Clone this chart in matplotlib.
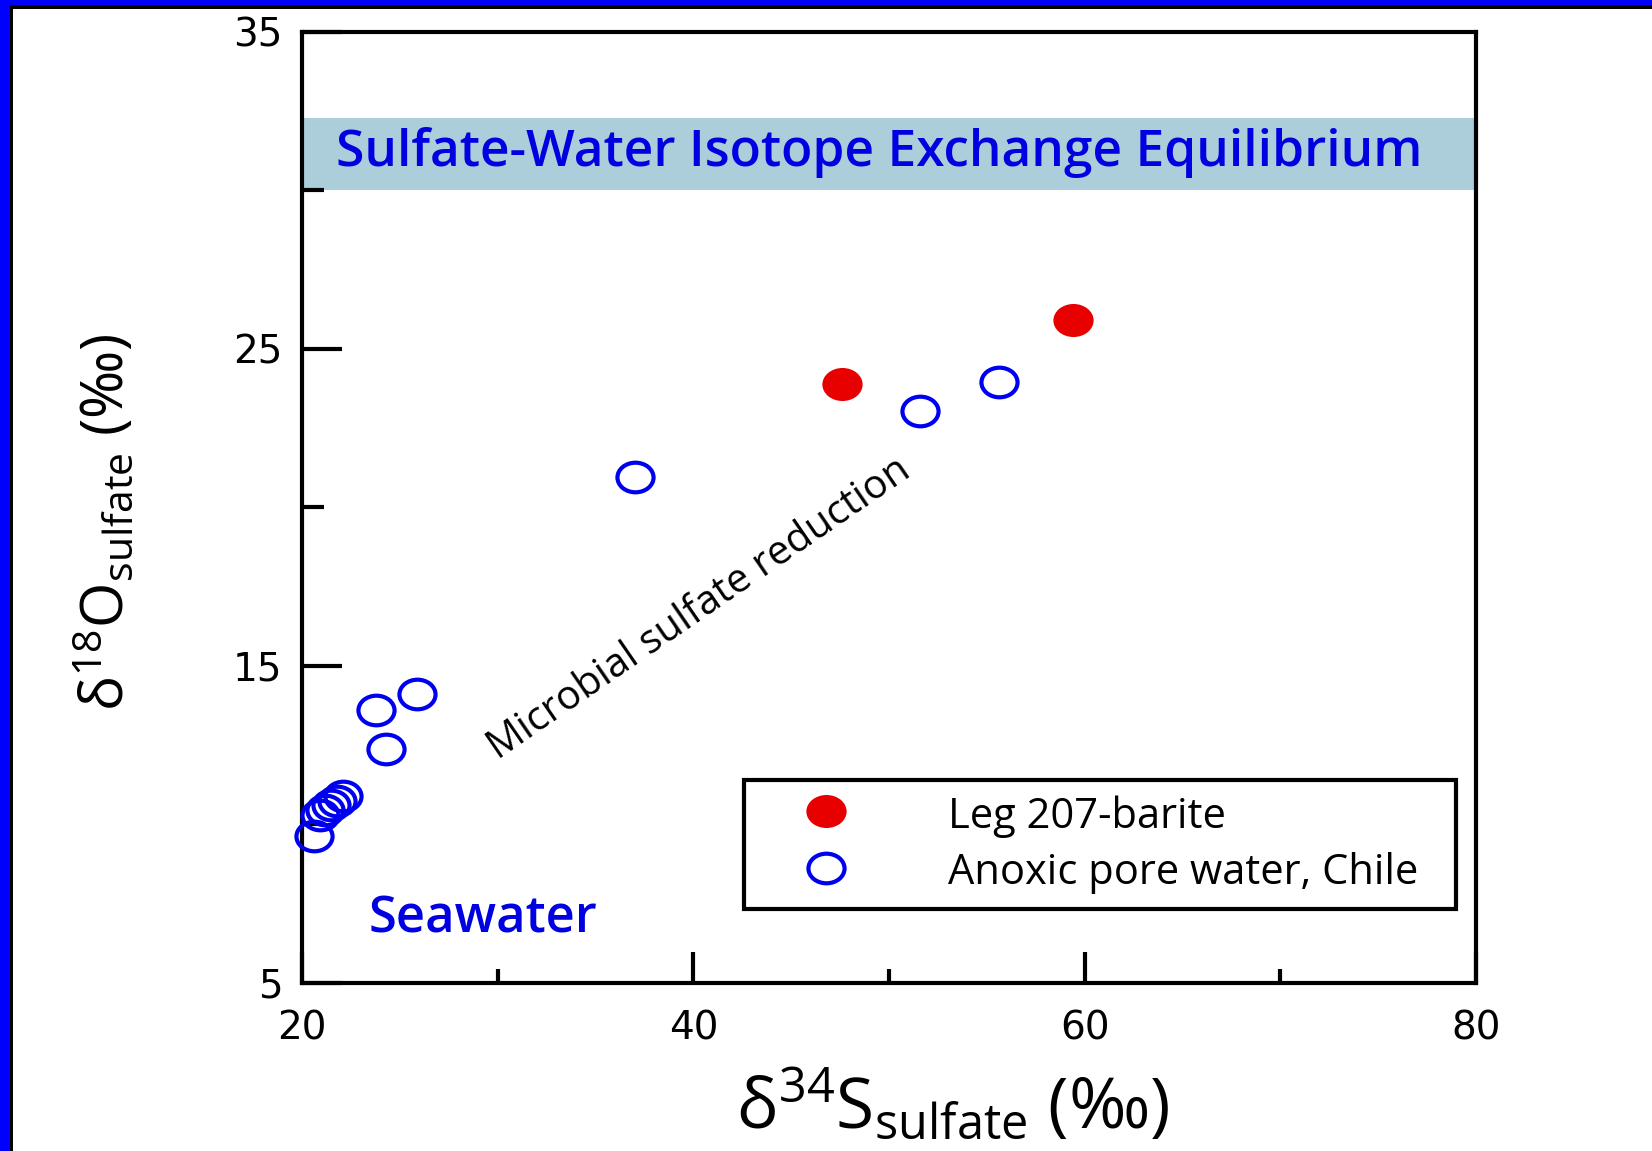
import matplotlib
matplotlib.use("Agg")
import matplotlib.pyplot as plt
from matplotlib.path import Path
from matplotlib.patches import Rectangle
from matplotlib.ticker import FixedLocator
from matplotlib.transforms import Affine2D

# Leg 207 barite
barite_s34 = [47.6, 59.4]
barite_o18 = [23.9, 25.9]

# Anoxic pore water, Chile
pore_s34 = [20.6, 20.9, 21.2, 21.5, 21.8, 22.1, 23.8, 24.3, 25.9, 37.0, 51.6, 55.6]
pore_o18 = [9.65, 10.3, 10.45, 10.6, 10.75, 10.9, 13.62, 12.39, 14.12, 20.95, 23.03, 23.96]

equilibrium_band = (30.0, 32.3)

x_major = [20, 40, 60, 80]
x_minor = [30, 50, 70]
y_major = [5, 15, 25, 35]
y_minor = [10, 20, 30]

plt.rcParams["mathtext.fontset"] = "custom"
plt.rcParams["mathtext.rm"] = "Open Sans"
plt.rcParams["mathtext.it"] = "Open Sans:italic"

label_font = ["Open Sans", "DejaVu Sans"]

# slightly flattened circle, as in the original picture
ellipse = Path.unit_circle().transformed(Affine2D().scale(1.0, 0.82))

fig = plt.figure(figsize=(16.52, 11.51), dpi=100)
ax = fig.add_axes([0.1828, 0.146, 0.7107, 0.8262])

ax.axhspan(*equilibrium_band, color="#accdda", zorder=0, lw=0)

ax.plot(barite_s34, barite_o18, linestyle="none", marker=ellipse, ms=29,
        mfc="#e80000", mec="#e80000", mew=0, label="Leg 207-barite",
        clip_on=False, zorder=5)
ax.plot(pore_s34, pore_o18, linestyle="none", marker=ellipse, ms=26,
        mfc="none", mec="#0000f0", mew=3, label="Anoxic pore water, Chile",
        clip_on=False, zorder=5)

ax.text(49.5, 31.2, "Sulfate-Water Isotope Exchange Equilibrium",
        color="#0000e0", fontsize=37, fontfamily="Open Sans",
        fontweight="semibold", ha="center", va="center")
ax.text(23.4, 7.0, "Seawater", color="#0000e0", fontsize=36.5,
        fontfamily="Open Sans", fontweight="semibold", ha="left", va="center")
ax.text(40.3, 16.8, "Microbial sulfate reduction", color="black", fontsize=29,
        fontfamily="Open Sans", fontweight="medium", rotation=34.5,
        rotation_mode="anchor", ha="center", va="center")

ax.set_xlim(20, 80)
ax.set_ylim(5, 35)
ax.xaxis.set_major_locator(FixedLocator(x_major))
ax.xaxis.set_minor_locator(FixedLocator(x_minor))
ax.yaxis.set_major_locator(FixedLocator(y_major))
ax.yaxis.set_minor_locator(FixedLocator(y_minor))
ax.tick_params(axis="both", which="both", direction="in", width=3,
               top=False, right=False, labelsize=28)
ax.tick_params(axis="x", which="major", length=22, pad=19)
ax.tick_params(axis="x", which="minor", length=10)
ax.tick_params(axis="y", which="major", length=29, pad=14)
ax.tick_params(axis="y", which="minor", length=16)
for spine in ax.spines.values():
    spine.set_linewidth(3)

ax.set_xlabel(r"δ$^{34}$S$_{\mathrm{sulfate}}$ (‰)", fontsize=50,
              fontfamily=label_font)
ax.xaxis.set_label_coords(0.5545, -0.09)
ax.set_ylabel(r"δ$^{18}$O$_{\mathrm{sulfate}}$ (‰)", fontsize=42,
              fontfamily=label_font)
ax.yaxis.set_label_coords(-0.14, 0.485)

leg = ax.legend(loc="lower left", bbox_to_anchor=(0.3765, 0.0778, 0.6065, 0.1304),
                mode="expand", fancybox=False, edgecolor="black", framealpha=1,
                prop={"family": "Open Sans", "size": 30}, borderpad=0.36,
                labelspacing=0.32, handlelength=3.2, handleheight=1.0,
                handletextpad=1.34, borderaxespad=0)
leg.get_frame().set_linewidth(3)

# blue / black frame along the top and left edges of the picture
fig.add_artist(Rectangle((0, 1 - 5 / 1151), 1, 5 / 1151, transform=fig.transFigure,
                         color="#0000ff", lw=0))
fig.add_artist(Rectangle((0, 1 - 9 / 1151), 1, 4 / 1151, transform=fig.transFigure,
                         color="black", lw=0))
fig.add_artist(Rectangle((0, 0), 10 / 1652, 1, transform=fig.transFigure,
                         color="#0000ff", lw=0))
fig.add_artist(Rectangle((10 / 1652, 0), 3 / 1652, 1 - 5 / 1151,
                         transform=fig.transFigure, color="black", lw=0))

fig.savefig("out.png", dpi=100)
